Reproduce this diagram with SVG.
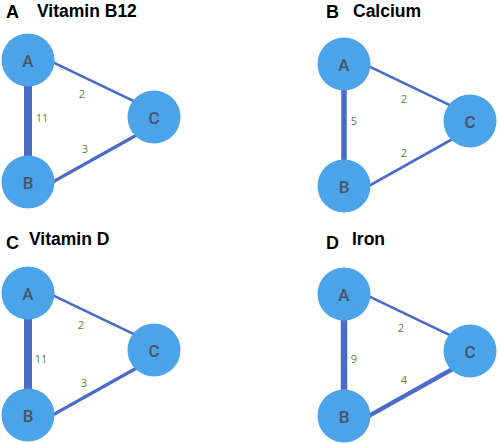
<svg xmlns="http://www.w3.org/2000/svg" width="500" height="443" viewBox="0 0 500 443">
<style>
.node circle{fill:#4ba3ea}
.node text{font-family:Roboto,"Open Sans",sans-serif;font-weight:500;font-size:17px;fill:#4a5562;text-anchor:middle;dominant-baseline:central}
.edge{stroke:#4a6cc8;stroke-linecap:butt}
.lbl{font-family:"Open Sans","Liberation Sans",sans-serif;font-size:11px;fill:#5a8530;text-anchor:middle;dominant-baseline:central}
.pl{font-family:"Liberation Sans",Arial,sans-serif;font-weight:bold;font-size:18px;fill:#000}
.tt{font-family:"Liberation Sans",Arial,sans-serif;font-weight:bold;font-size:17.5px;fill:#000}
</style>
<rect width="500" height="443" fill="#fff"/>
<g id="titles">
<text class="pl" x="6" y="17.5">A</text><text class="tt" x="37" y="17">Vitamin B12</text>
<text class="pl" x="326" y="17.5">B</text><text class="tt" x="353" y="17">Calcium</text>
<text class="pl" x="6" y="249">C</text><text class="tt" x="29" y="245">Vitamin D</text>
<text class="pl" x="326" y="249">D</text><text class="tt" x="352" y="245">Iron</text>
</g>
<g id="connectors">
<line class="edge" x1="28" y1="60" x2="28" y2="182" stroke-width="8"/>
<line class="edge" x1="40" y1="56.1" x2="150" y2="108.9" stroke-width="2.7"/>
<line class="edge" x1="40" y1="189.1" x2="150" y2="127.5" stroke-width="3.3"/>
<line class="edge" x1="344" y1="64" x2="344" y2="186" stroke-width="5.5"/>
<line class="edge" x1="356" y1="60.1" x2="466" y2="112.9" stroke-width="2.7"/>
<line class="edge" x1="356" y1="193.1" x2="466" y2="131.5" stroke-width="2.7"/>
<line class="edge" x1="28" y1="293" x2="28" y2="415" stroke-width="8"/>
<line class="edge" x1="40" y1="289.1" x2="150" y2="341.9" stroke-width="2.7"/>
<line class="edge" x1="40" y1="422.1" x2="150" y2="360.5" stroke-width="3.3"/>
<line class="edge" x1="344" y1="294" x2="344" y2="416" stroke-width="6.5"/>
<line class="edge" x1="356" y1="290.1" x2="466" y2="342.9" stroke-width="2.7"/>
<line class="edge" x1="356" y1="423.1" x2="466" y2="361.5" stroke-width="4.3"/>
<text class="lbl" x="82" y="93">2</text>
<text class="lbl" x="42" y="117">11</text>
<text class="lbl" x="85" y="148">3</text>
<text class="lbl" x="404" y="98">2</text>
<text class="lbl" x="354" y="120">5</text>
<text class="lbl" x="404" y="152">2</text>
<text class="lbl" x="81" y="324">2</text>
<text class="lbl" x="41" y="358">11</text>
<text class="lbl" x="84" y="382">3</text>
<text class="lbl" x="401" y="327">2</text>
<text class="lbl" x="354" y="358">9</text>
<text class="lbl" x="404" y="379">4</text>
</g>
<g id="pA-A" class="node"><circle cx="28" cy="60" r="26.5"/><text x="28" y="61">A</text></g>
<g id="pA-B" class="node"><circle cx="28" cy="182" r="26.5"/><text x="28" y="183">B</text></g>
<g id="pA-C" class="node"><circle cx="154" cy="117" r="26.5"/><text x="154" y="118">C</text></g>
<g id="pB-A" class="node"><circle cx="344" cy="64" r="26.5"/><text x="344" y="65">A</text></g>
<g id="pB-B" class="node"><circle cx="344" cy="186" r="26.5"/><text x="344" y="187">B</text></g>
<g id="pB-C" class="node"><circle cx="470" cy="121" r="26.5"/><text x="470" y="122">C</text></g>
<g id="pC-A" class="node"><circle cx="28" cy="293" r="26.5"/><text x="28" y="294">A</text></g>
<g id="pC-B" class="node"><circle cx="28" cy="415" r="26.5"/><text x="28" y="416">B</text></g>
<g id="pC-C" class="node"><circle cx="154" cy="350" r="26.5"/><text x="154" y="351">C</text></g>
<g id="pD-A" class="node"><circle cx="344" cy="294" r="26.5"/><text x="344" y="295">A</text></g>
<g id="pD-B" class="node"><circle cx="344" cy="416" r="26.5"/><text x="344" y="417">B</text></g>
<g id="pD-C" class="node"><circle cx="470" cy="351" r="26.5"/><text x="470" y="352">C</text></g>
</svg>
